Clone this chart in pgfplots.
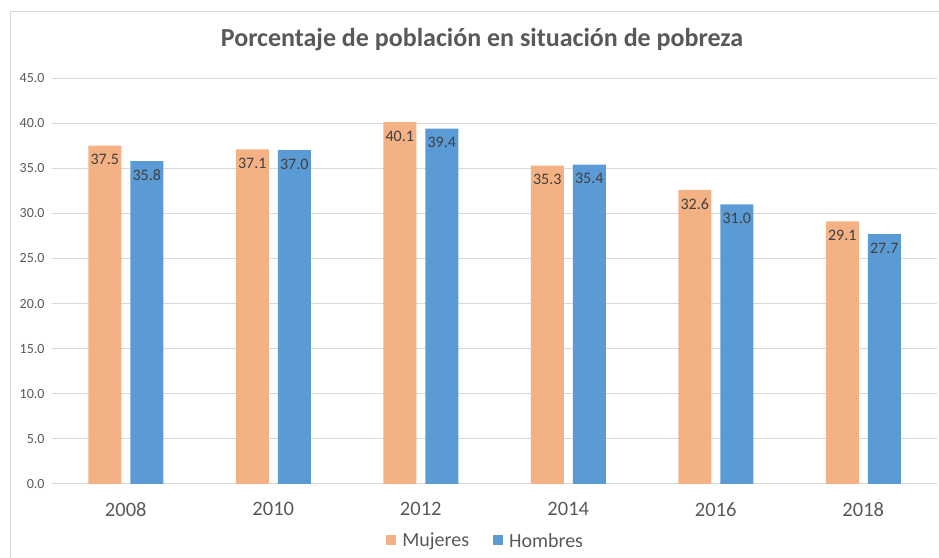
\documentclass[border=0pt]{standalone}
\usepackage{pgfplots}
\pgfplotsset{compat=1.18}
\usepackage{fontspec}
\setmainfont{Carlito}
\definecolor{cOr}{HTML}{F4B183}
\definecolor{cBl}{HTML}{5B9BD5}
\definecolor{cGrid}{HTML}{D9D9D9}
\definecolor{cTxt}{HTML}{595959}
\definecolor{cLab}{HTML}{404040}
\begin{document}
\begin{tikzpicture}
\useasboundingbox (-52bp,-74bp) rectangle (887bp,484bp);
\draw[cGrid, line width=1bp] (-41.5bp,-74bp) -- (-41.5bp,472bp) -- (887bp,472bp);
\begin{axis}[
  at={(0,0)}, anchor=south west,
  scale only axis, width=885bp, height=406bp,
  ymin=0, ymax=45, ytick={0,5,...,45},
  xmin=-0.5, xmax=5.5, xtick={0,1,2,3,4,5},
  xticklabels={2008,2010,2012,2014,2016,2018},
  ybar, bar width=33bp,
  axis line style={draw=none},
  major tick length=0pt,
  ymajorgrids, grid style={cGrid, line width=1bp},
  yticklabel style={font=\fontsize{14bp}{16bp}\selectfont, color=cTxt, xshift=-4bp,
    /pgf/number format/.cd, fixed, fixed zerofill, precision=1, assume math mode=true},
  xticklabel style={font=\fontsize{20.5bp}{24bp}\selectfont, color=cTxt, yshift=-15bp},
  nodes near coords,
  nodes near coords align={center},
  every node near coord/.append style={font=\fontsize{16bp}{18bp}\selectfont, color=cLab, yshift=-14bp,
    /pgf/number format/.cd, fixed, fixed zerofill, precision=1, assume math mode=true},
  legend style={at={(0.49,-0.14)}, anchor=center, draw=none, fill=none,
    font=\fontsize{20bp}{22bp}\selectfont, text=cTxt, legend columns=2,
    /tikz/every odd column/.append style={column sep=4bp},
    /tikz/every even column/.append style={column sep=22bp}},
  legend image code/.code={\fill[#1] (0bp,-4.5bp) rectangle (10bp,5.5bp);},
]
\addplot[fill=cOr, draw=none, bar shift=-21bp] coordinates {(0,37.5) (1,37.1) (2,40.1) (3,35.3) (4,32.6) (5,29.1)};
\addplot[fill=cBl, draw=none, bar shift=21bp] coordinates {(0,35.8) (1,37.0) (2,39.4) (3,35.4) (4,31.0) (5,27.7)};
\legend{Mujeres,Hombres}
\end{axis}
\node[font=\bfseries\fontsize{26bp}{29bp}\selectfont, text=cTxt] at (430bp,444bp) {Porcentaje de población en situación de pobreza};
\end{tikzpicture}
\end{document}
